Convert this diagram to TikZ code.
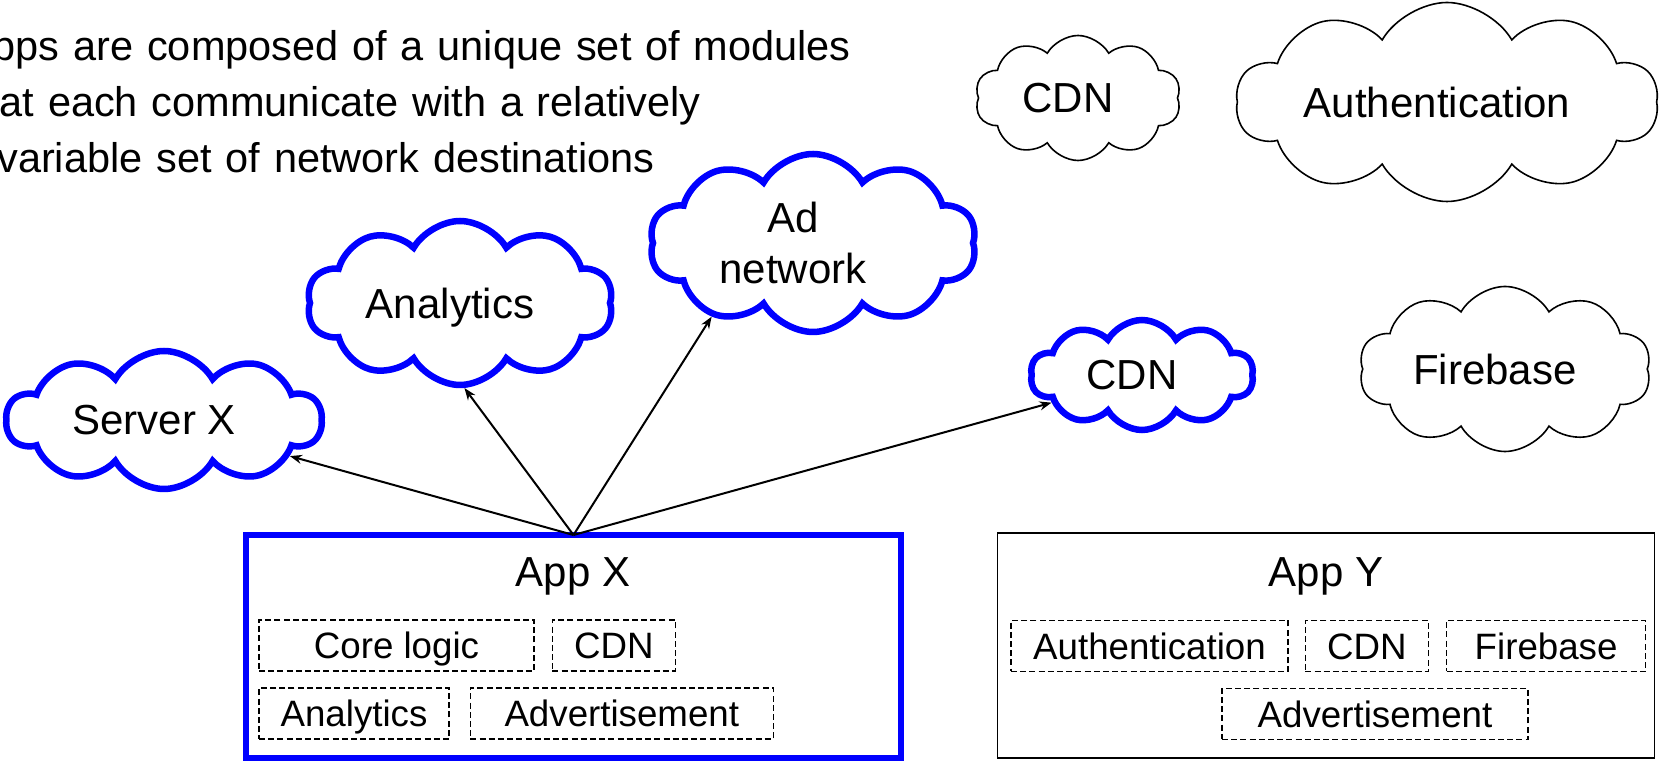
\documentclass[tikz,border=0pt]{standalone}
\usepackage{fontspec}
\setmainfont{Liberation Sans}
\usetikzlibrary{arrows.meta, positioning, shapes.symbols}

\newcommand{\bigfont}{\fontsize{21}{25.5}\selectfont}
\newcommand{\modfont}{\fontsize{18.35}{22}\selectfont}

\begin{document}
\begin{tikzpicture}[
x = 0.5pt, % one pixel of the slide
y = -0.5pt, % rows counted downwards
> = {Stealth[length=6pt, width=4.5pt]}, % arrow head style
line width = 1pt % line style
]
\tikzstyle{netcloud}=[
cloud, cloud puffs = 10, cloud puff arc = 120, cloud ignores aspect,
draw = blue, line width = 3.25pt, fill = white,
inner sep = 0pt, font = \bigfont,
execute at end node = {\kern 10pt} % text sits a bit left of the middle
]
\tikzstyle{idlecloud}=[netcloud, draw = black, line width = 0.8pt]
\tikzstyle{appbox}=[
rectangle, draw = black, line width = 0.85pt, outer sep = 0pt,
minimum width = 328.5pt, minimum height = 112.5pt
]
\tikzstyle{module}=[
rectangle, draw = black, line width = 0.65pt,
dash pattern = on 3pt off 1.6pt, minimum height = 25.5pt,
inner sep = 0pt, text height = 13.1pt, text depth = 0pt, font = \modfont
]
\useasboundingbox (0,0) rectangle (1661,763);
\clip (0,0) rectangle (1661,763);

% heading, cut off at the left edge of the slide
\node[anchor = base west, inner sep = 0pt, text width = 460pt, align = left,
font = \fontsize{20.75}{27.9}\selectfont] (intro) at (-36,61)
{Apps are composed of a unique set of modules\\
that each communicate with a relatively\\
invariable set of network destinations};

% destinations of App X
\node[netcloud, minimum width = 157.5pt, minimum height = 69pt] (serverx) at (164,420) {Server X};
\node[netcloud, minimum width = 153pt, minimum height = 82pt, text height = 20pt, text depth = 4pt] (analytics) at (460,303) {Analytics};
\node[netcloud, minimum width = 163.5pt, minimum height = 89pt, align = center,
execute at end node = {}] (adnet) at (813,243) {Ad\kern 10pt\\network\kern 10pt};
\node[netcloud, minimum width = 111.5pt, minimum height = 55pt] (cdnx) at (1142,375) {CDN};

% destinations of App Y
\node[idlecloud, minimum width = 103pt, minimum height = 62.5pt] (cdny) at (1078,98) {CDN};
\node[idlecloud, minimum width = 211pt, minimum height = 99.5pt] (auth) at (1447,102) {Authentication};
\node[idlecloud, minimum width = 146pt, minimum height = 82.5pt] (firebase) at (1505,369) {Firebase};

% App X
\node[appbox, draw = blue, line width = 3.25pt, minimum width = 327.5pt, minimum height = 111.5pt] (appx) at (573.5,646.5) {};
\node[font = \bigfont, anchor = base] (appxname) at (573,587) {App X};
\node[module, minimum width = 137.5pt] (xcore) at (396.5,645.5) {Core logic};
\node[module, minimum width = 61.5pt, right = 8.5pt of xcore] (xcdn) {CDN};
\node[module, minimum width = 95pt] (xanalytics) at (354,713.5) {Analytics};
\node[module, minimum width = 151.5pt, right = 10pt of xanalytics] (xads) {Advertisement};

% App Y
\node[appbox] (appy) at (1326,645.5) {};
\node[font = \bigfont, anchor = base] (appyname) at (1326,587) {App Y};
\node[module, minimum width = 138.5pt] (yauth) at (1149.5,646) {Authentication};
\node[module, minimum width = 61.5pt, right = 8pt of yauth] (ycdn) {CDN};
\node[module, minimum width = 99.5pt, right = 8.5pt of ycdn] (yfirebase) {Firebase};
\node[module, minimum width = 153pt] (yads) at (1375,714) {Advertisement};

\draw[->] (appx.north) -- (serverx.-16);
\draw[->] (appx.north) -- (analytics.-87);
\draw[->] (appx.north) -- (adnet.216);
\draw[->] (appx.north) -- (cdnx.197);
\end{tikzpicture}
\end{document}
